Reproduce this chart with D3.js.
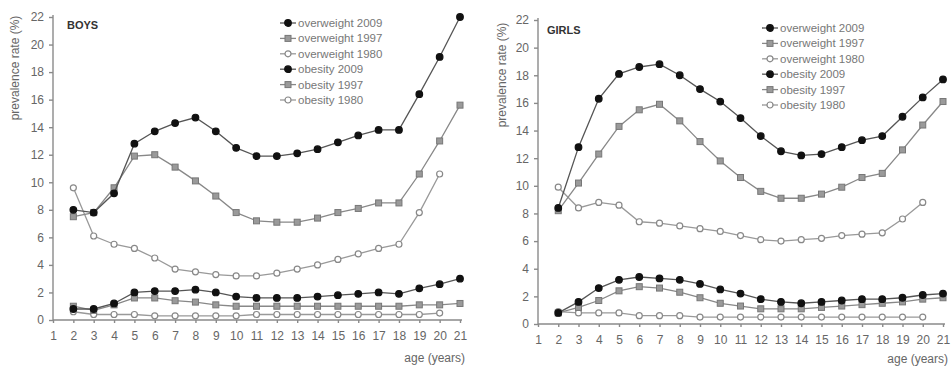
<!DOCTYPE html>
<html>
<head>
<meta charset="utf-8">
<script src="https://cdn.jsdelivr.net/npm/d3@7"></script>
<style>
  body { margin: 0; background: #fff; }
  svg { display: block; font-family: "Liberation Sans", Arial, sans-serif; }
  .axis path, .axis line { stroke: #8a8a8a; stroke-width: 1.4; }
  .axis text { fill: #666; font-size: 12px; }
</style>
</head>
<body>
<div id="chart"></div>
<script>
// ages on the x axis
const ages = [2, 3, 4, 5, 6, 7, 8, 9, 10, 11, 12, 13, 14, 15, 16, 17, 18, 19, 20, 21];
const xTicks = [1, 2, 3, 4, 5, 6, 7, 8, 9, 10, 11, 12, 13, 14, 15, 16, 17, 18, 19, 20, 21];
const yTicks = [0, 2, 4, 6, 8, 10, 12, 14, 16, 18, 20, 22];

const seriesNames = ['overweight 2009', 'overweight 1997', 'overweight 1980',
  'obesity 2009', 'obesity 1997', 'obesity 1980'];

// boys prevalence (%)
const boysOverweight2009 = [8.0, 7.8, 9.2, 12.8, 13.7, 14.3, 14.7, 13.7, 12.5, 11.9, 11.9, 12.1, 12.4, 12.9, 13.4, 13.8, 13.8, 16.4, 19.1, 22.0];
const boysOverweight1997 = [7.5, 7.8, 9.6, 11.9, 12.0, 11.1, 10.1, 9.0, 7.8, 7.2, 7.1, 7.1, 7.4, 7.8, 8.1, 8.5, 8.5, 10.6, 13.0, 15.6];
const boysOverweight1980 = [9.6, 6.1, 5.5, 5.2, 4.5, 3.7, 3.5, 3.3, 3.2, 3.2, 3.4, 3.7, 4.0, 4.4, 4.8, 5.2, 5.5, 7.8, 10.6, null];
const boysObesity2009 = [0.8, 0.8, 1.2, 2.0, 2.1, 2.1, 2.2, 2.0, 1.7, 1.6, 1.6, 1.6, 1.7, 1.8, 1.9, 2.0, 1.9, 2.3, 2.6, 3.0];
const boysObesity1997 = [1.0, 0.7, 1.1, 1.6, 1.6, 1.4, 1.3, 1.1, 1.0, 1.0, 1.0, 1.0, 1.0, 1.0, 1.0, 1.0, 1.0, 1.1, 1.1, 1.2];
const boysObesity1980 = [0.6, 0.4, 0.4, 0.4, 0.3, 0.3, 0.3, 0.3, 0.3, 0.4, 0.4, 0.4, 0.4, 0.4, 0.4, 0.4, 0.4, 0.4, 0.5, null];

// girls prevalence (%)
const girlsOverweight2009 = [8.4, 12.8, 16.3, 18.1, 18.6, 18.8, 18.0, 17.0, 16.1, 14.9, 13.6, 12.5, 12.2, 12.3, 12.8, 13.3, 13.6, 15.0, 16.4, 17.7];
const girlsOverweight1997 = [8.2, 10.2, 12.3, 14.3, 15.5, 15.9, 14.7, 13.2, 11.8, 10.6, 9.6, 9.1, 9.1, 9.4, 9.9, 10.6, 10.9, 12.6, 14.4, 16.1];
const girlsOverweight1980 = [9.9, 8.4, 8.8, 8.6, 7.4, 7.3, 7.1, 6.9, 6.7, 6.4, 6.1, 6.0, 6.1, 6.2, 6.4, 6.5, 6.6, 7.6, 8.8, null];
const girlsObesity2009 = [0.8, 1.6, 2.6, 3.2, 3.4, 3.3, 3.2, 2.9, 2.5, 2.2, 1.8, 1.6, 1.5, 1.6, 1.7, 1.8, 1.8, 1.9, 2.1, 2.2];
const girlsObesity1997 = [0.8, 1.2, 1.7, 2.4, 2.7, 2.6, 2.3, 1.9, 1.5, 1.3, 1.1, 1.1, 1.1, 1.2, 1.3, 1.4, 1.5, 1.6, 1.8, 1.9];
const girlsObesity1980 = [0.9, 0.8, 0.8, 0.8, 0.6, 0.6, 0.6, 0.5, 0.5, 0.5, 0.5, 0.5, 0.5, 0.5, 0.5, 0.5, 0.5, 0.5, 0.5, null];

// marker style per survey year: 2009, 1997, 1980
const styles = [
  { line: '#555', kind: 'dot', fill: '#111', stroke: '#111' },
  { line: '#888', kind: 'square', fill: '#9a9a9a', stroke: '#777' },
  { line: '#999', kind: 'open', fill: '#fff', stroke: '#888' }
];

const svg = d3.select('#chart').append('svg')
  .attr('width', 952).attr('height', 368);

function drawMarker(g, st, cx, cy) {
  if (st.kind === 'square') {
    g.append('rect')
      .attr('x', cx - 3).attr('y', cy - 3).attr('width', 6).attr('height', 6)
      .attr('fill', st.fill).attr('stroke', st.stroke).attr('stroke-width', 1);
  } else {
    g.append('circle')
      .attr('cx', cx).attr('cy', cy).attr('r', st.kind === 'dot' ? 3.3 : 3)
      .attr('fill', st.fill).attr('stroke', st.stroke).attr('stroke-width', 1.2);
  }
}

function panel(p) {
  const x = d3.scaleLinear().domain([1, 21]).range([p.left, p.right]);
  const y = d3.scaleLinear().domain([0, 22]).range([p.bottom, p.top]);
  const g = svg.append('g');

  g.append('g').attr('class', 'axis')
    .attr('transform', `translate(0,${p.bottom})`)
    .call(d3.axisBottom(x).tickValues(xTicks).tickSize(3).tickPadding(8).tickFormat(d3.format('d')))
    .call(a => a.select('.domain').attr('d', `M${p.left},0H${p.right + 2}`));

  g.append('g').attr('class', 'axis')
    .attr('transform', `translate(${p.left},0)`)
    .call(d3.axisLeft(y).tickValues(yTicks).tickSize(4).tickPadding(5))
    .call(a => a.select('.domain').attr('d', `M0,${p.bottom}V${p.top - 2}`));

  g.append('text')
    .attr('transform', `translate(${p.titleX},${p.titleY}) rotate(-90)`)
    .attr('text-anchor', 'middle')
    .attr('fill', '#666').attr('font-size', 12)
    .text('prevalence rate (%)');

  g.append('text')
    .attr('x', p.right + 5).attr('y', p.ageY)
    .attr('text-anchor', 'end')
    .attr('fill', '#666').attr('font-size', 12)
    .text('age (years)');

  g.append('text')
    .attr('x', p.labelX).attr('y', p.labelY)
    .attr('fill', '#333').attr('font-size', 11).attr('font-weight', 'bold')
    .text(p.label);

  const line = d3.line()
    .defined(d => d[1] != null)
    .x(d => x(d[0])).y(d => y(d[1]));

  // draw 1980 first so the 2009 series sits on top
  [2, 1, 0, 5, 4, 3].forEach(i => {
    const st = styles[i % 3];
    const pts = ages.map((a, j) => [a, p.series[i][j]]).filter(d => d[1] != null);
    g.append('path').datum(pts)
      .attr('d', line)
      .attr('fill', 'none').attr('stroke', st.line).attr('stroke-width', 1.3);
    const mg = g.append('g');
    pts.forEach(d => drawMarker(mg, st, x(d[0]), y(d[1])));
  });

  const lg = g.append('g').attr('transform', `translate(${p.legendX},${p.legendY})`);
  seriesNames.forEach((name, i) => {
    const st = styles[i % 3];
    const row = lg.append('g').attr('transform', `translate(0,${i * 15.4})`);
    row.append('line').attr('x1', 0).attr('x2', 16).attr('y1', 0).attr('y2', 0)
      .attr('stroke', st.line).attr('stroke-width', 1.3);
    drawMarker(row, st, 8, 0);
    row.append('text').attr('x', 18).attr('y', 4)
      .attr('fill', '#777').attr('font-size', 11.5)
      .text(name);
  });
}

panel({
  left: 53, right: 460, top: 17, bottom: 320, ageY: 362,
  titleX: 19, titleY: 68, label: 'BOYS', labelX: 67, labelY: 29,
  legendX: 280, legendY: 23,
  series: [boysOverweight2009, boysOverweight1997, boysOverweight1980,
    boysObesity2009, boysObesity1997, boysObesity1980]
});

panel({
  left: 538, right: 943, top: 20, bottom: 324, ageY: 363,
  titleX: 506, titleY: 75, label: 'GIRLS', labelX: 547, labelY: 34,
  legendX: 762, legendY: 28,
  series: [girlsOverweight2009, girlsOverweight1997, girlsOverweight1980,
    girlsObesity2009, girlsObesity1997, girlsObesity1980]
});
</script>
</body>
</html>
